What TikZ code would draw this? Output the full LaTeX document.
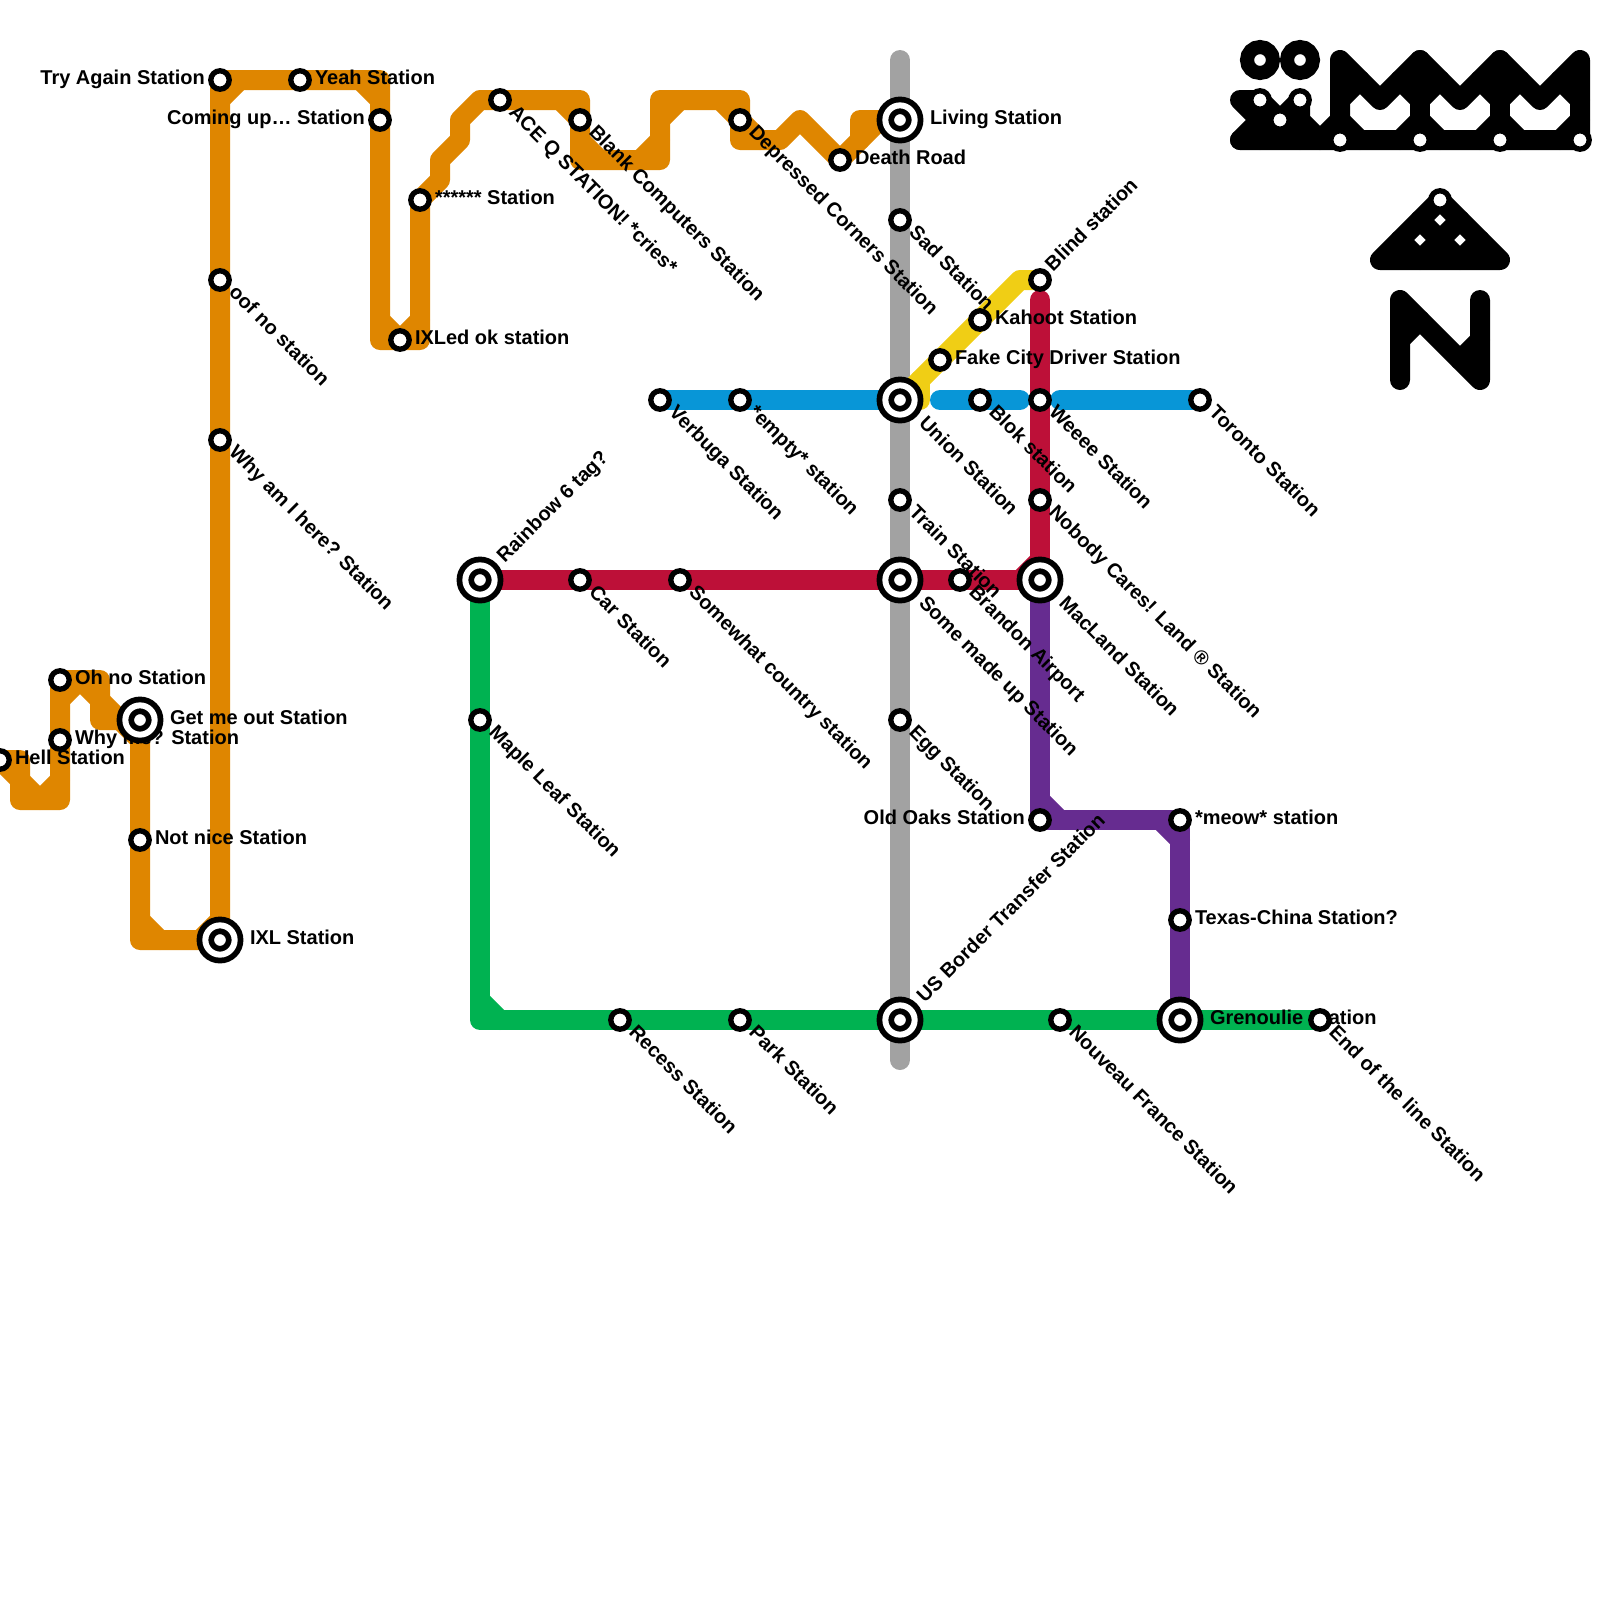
\documentclass[tikz,border=0pt]{standalone}
\usepackage{fontspec}
\setmainfont{Liberation Sans}
\usetikzlibrary{backgrounds}
\definecolor{mOrange}{HTML}{DF8600}
\definecolor{mRed}{HTML}{BD1038}
\definecolor{mBlue}{HTML}{0896D7}
\definecolor{mGreen}{HTML}{00B251}
\definecolor{mPurple}{HTML}{662C90}
\definecolor{mYellow}{HTML}{F0CE15}
\definecolor{mGrey}{HTML}{A2A2A2}
\tikzset{
  rail/.style={line width=0.25cm, line cap=round, line join=round},
  stn/.style={circle, draw=black, fill=white, line width=0.067cm, minimum size=0.23cm, inner sep=0pt, outer sep=0pt},
  hub/.style={circle, draw=black, fill=white, line width=0.072cm, double=white, double distance=0.075cm, minimum size=0.366cm, inner sep=0pt, outer sep=0pt},
  donut/.style={circle, draw=black, fill=white, line width=0.175cm, minimum size=0.325cm, inner sep=0pt, outer sep=0pt},
  tag/.style={font=\bfseries\fontsize{7.11}{8}\selectfont, inner sep=0pt, outer sep=0pt},
  rtag/.style={tag, anchor=base west, xshift=0.1875cm, yshift=-0.057cm},
  htag/.style={tag, anchor=base west, xshift=0.375cm, yshift=-0.057cm},
  ltag/.style={tag, anchor=base east, xshift=-0.19cm, yshift=-0.057cm},
  dtag/.style={tag, anchor=base west, xshift=0.10cm, yshift=-0.17cm, rotate=-45},
  dhtag/.style={tag, anchor=base west, xshift=0.225cm, yshift=-0.305cm, rotate=-45},
  utag/.style={tag, anchor=base west, xshift=0.165cm, yshift=0.10cm, rotate=45},
  uhtag/.style={tag, anchor=base west, xshift=0.31cm, yshift=0.21cm, rotate=45},
}
\begin{document}
\begin{tikzpicture}[x=0.25cm,y=-0.25cm]
  \useasboundingbox (0,0) rectangle (80,80);

  % stations, left to right
  \node[stn] (hell) at (0,38) {};
  \node[rtag] (hellT) at (hell) {Hell Station};
  \node[stn] (ohno) at (3,34) {};
  \node[rtag] (ohnoT) at (ohno) {Oh no Station};
  \node[stn] (whyme) at (3,37) {};
  \node[rtag] (whymeT) at (whyme) {Why me? Station};
  \node[hub] (getout) at (7,36) {};
  \node[htag] (getoutT) at (getout) {Get me out Station};
  \node[stn] (notnice) at (7,42) {};
  \node[rtag] (notniceT) at (notnice) {Not nice Station};
  \node[stn] (tryagain) at (11,4) {};
  \node[ltag] (tryagainT) at (tryagain) {Try Again Station};
  \node[stn] (oof) at (11,14) {};
  \node[dtag] (oofT) at (oof) {oof no station};
  \node[stn] (whyam) at (11,22) {};
  \node[dtag] (whyamT) at (whyam) {Why am I here? Station};
  \node[hub] (ixl) at (11,47) {};
  \node[htag] (ixlT) at (ixl) {IXL Station};
  \node[stn] (yeah) at (15,4) {};
  \node[rtag] (yeahT) at (yeah) {Yeah Station};
  \node[stn] (comingup) at (19,6) {};
  \node[ltag] (comingupT) at (comingup) {Coming up… Station};
  \node[stn] (ixled) at (20,17) {};
  \node[rtag] (ixledT) at (ixled) {IXLed ok station};
  \node[stn] (stars) at (21,10) {};
  \node[rtag] (starsT) at (stars) {****** Station};
  \node[hub] (rainbow) at (24,29) {};
  \node[uhtag] (rainbowT) at (rainbow) {Rainbow 6 tag?};
  \node[stn] (maple) at (24,36) {};
  \node[dtag] (mapleT) at (maple) {Maple Leaf Station};
  \node[stn] (ace) at (25,5) {};
  \node[dtag] (aceT) at (ace) {ACE Q STATION! *cries*};
  \node[stn] (blank) at (29,6) {};
  \node[dtag] (blankT) at (blank) {Blank Computers Station};
  \node[stn] (car) at (29,29) {};
  \node[dtag] (carT) at (car) {Car Station};
  \node[stn] (recess) at (31,51) {};
  \node[dtag] (recessT) at (recess) {Recess Station};
  \node[stn] (verbuga) at (33,20) {};
  \node[dtag] (verbugaT) at (verbuga) {Verbuga Station};
  \node[stn] (somewhat) at (34,29) {};
  \node[dtag] (somewhatT) at (somewhat) {Somewhat country station};
  \node[stn] (depressed) at (37,6) {};
  \node[dtag] (depressedT) at (depressed) {Depressed Corners Station};
  \node[stn] (empty) at (37,20) {};
  \node[dtag] (emptyT) at (empty) {*empty* station};
  \node[stn] (park) at (37,51) {};
  \node[dtag] (parkT) at (park) {Park Station};
  \node[stn] (death) at (42,8) {};
  \node[rtag] (deathT) at (death) {Death Road};
  \node[hub] (living) at (45,6) {};
  \node[htag] (livingT) at (living) {Living Station};
  \node[stn] (sad) at (45,11) {};
  \node[dtag] (sadT) at (sad) {Sad Station};
  \node[hub] (union) at (45,20) {};
  \node[dhtag] (unionT) at (union) {Union Station};
  \node[stn] (train) at (45,25) {};
  \node[dtag] (trainT) at (train) {Train Station};
  \node[hub] (madeup) at (45,29) {};
  \node[dhtag] (madeupT) at (madeup) {Some made up Station};
  \node[stn] (egg) at (45,36) {};
  \node[dtag] (eggT) at (egg) {Egg Station};
  \node[hub] (border) at (45,51) {};
  \node[uhtag] (borderT) at (border) {US Border Transfer Station};
  \node[stn] (fakecity) at (47,18) {};
  \node[rtag] (fakecityT) at (fakecity) {Fake City Driver Station};
  \node[stn] (brandon) at (48,29) {};
  \node[dtag] (brandonT) at (brandon) {Brandon Airport};
  \node[stn] (kahoot) at (49,16) {};
  \node[rtag] (kahootT) at (kahoot) {Kahoot Station};
  \node[stn] (blok) at (49,20) {};
  \node[dtag] (blokT) at (blok) {Blok station};
  \node[stn] (blind) at (52,14) {};
  \node[utag] (blindT) at (blind) {Blind station};
  \node[stn] (weeee) at (52,20) {};
  \node[dtag] (weeeeT) at (weeee) {Weeee Station};
  \node[stn] (nobody) at (52,25) {};
  \node[dtag] (nobodyT) at (nobody) {Nobody Cares! Land ® Station};
  \node[hub] (macland) at (52,29) {};
  \node[dhtag] (maclandT) at (macland) {MacLand Station};
  \node[stn] (oldoaks) at (52,41) {};
  \node[ltag] (oldoaksT) at (oldoaks) {Old Oaks Station};
  \node[stn] (nouveau) at (53,51) {};
  \node[dtag] (nouveauT) at (nouveau) {Nouveau France Station};
  \node[stn] (meow) at (59,41) {};
  \node[rtag] (meowT) at (meow) {*meow* station};
  \node[stn] (texas) at (59,46) {};
  \node[rtag] (texasT) at (texas) {Texas-China Station?};
  \node[hub] (grenoulie) at (59,51) {};
  \node[htag] (grenoulieT) at (grenoulie) {Grenoulie Station};
  \node[stn] (toronto) at (60,20) {};
  \node[dtag] (torontoT) at (toronto) {Toronto Station};
  \node[stn] (endline) at (66,51) {};
  \node[dtag] (endlineT) at (endline) {End of the line Station};

  % black pictograms
  \node[donut] (eyeA) at (63,3) {};
  \node[donut] (eyeB) at (65,3) {};
  \node[stn] (catA) at (63,5) {};
  \node[stn] (catB) at (65,5) {};
  \node[stn] (catC) at (64,6) {};
  \node[stn] (crownA) at (67,7) {};
  \node[stn] (crownB) at (71,7) {};
  \node[stn] (crownC) at (75,7) {};
  \node[stn] (crownD) at (79,7) {};
  \node[stn] (apex) at (72,10) {};

  \begin{pgfonlayer}{background}
    \coordinate (greytop) at (45,3);
    \coordinate (greyend) at (45,53);
    \draw[rail, mGrey] (greytop) -- (greyend);
    % orange line, with its corner cuts
    \draw[rail, mOrange] (hell.center) -- (1,38) -- (1,40) -- (3,40) -- (whyme.center) -- (ohno.center) -- (5,34) -- (5,36)
      -- (getout.center) -- (notnice.center) -- (7,47) -- (ixl.center) -- (whyam.center) -- (oof.center) -- (tryagain.center)
      -- (yeah.center) -- (19,4) -- (comingup.center) -- (19,17) -- (ixled.center) -- (21,17) -- (stars.center) -- (22,9) -- (22,8)
      -- (23,7) -- (23,6) -- (24,5) -- (ace.center) -- (29,5) -- (blank.center) -- (29,8) -- (33,8) -- (33,5) -- (37,5)
      -- (depressed.center) -- (37,7) -- (39,7) -- (40,6) -- (death.center) -- (43,7) -- (43,6) -- (living.center);
    \draw[rail, mOrange] (0,38) -- (1,39) (1,39) -- (2,40) -- (3,39) (3,35) -- (4,34) -- (5,35) -- (6,36) (6,36) -- (7,37)
      (7,46) -- (8,47) (10,47) -- (11,46) (11,5) -- (12,4) (18,4) -- (19,5) (19,16) -- (20,17) -- (21,16)
      (28,5) -- (29,6) (29,7) -- (30,8) (32,8) -- (33,7) (33,6) -- (34,5) (36,5) -- (37,6) -- (38,7) (43,7) -- (44,6);
    \draw[rail, mBlue] (verbuga.center) -- (union.center);
    \draw[rail, mBlue] (47,20) -- (51,20);
    \draw[rail, mBlue] (53,20) -- (toronto.center);
    \draw[rail, mYellow] (union.center) -- (fakecity.center) -- (kahoot.center) -- (51,14) -- (blind.center);
    \draw[rail, mYellow] (union.center) -- (46,20) -- (46,19);
    \draw[rail, mPurple] (macland.center) -- (oldoaks.center) -- (meow.center) -- (grenoulie.center);
    \draw[rail, mPurple] (52,40) -- (53,41) (58,41) -- (59,42);
    \draw[rail, mRed] (rainbow.center) -- (macland.center) -- (52,15);
    \draw[rail, mRed] (51,29) -- (52,28);
    \draw[rail, mGreen] (rainbow.center) -- (24,51) -- (endline.center);
    \draw[rail, mGreen] (24,50) -- (25,51);
    % cat
    \draw[rail, black] (62,5) -- (63,5) -- (63,7) (62,5) -- (63,6) -- (62,7) (63,5) -- (64,6) -- (65,5) -- (65,6) -- (66,7)
      (63,6) -- (65,6) -- (65,7);
    % crown
    \draw[rail, black] (62,7) -- (crownD.center) -- (79,3) -- (77,5) -- (75,3) -- (73,5) -- (71,3) -- (69,5) -- (67,3) -- (crownA.center);
    \draw[rail, black] (71,3) -- (crownB.center) (75,3) -- (crownC.center);
    \draw[rail, black] (66,7) -- (67,6) -- (68,7) (70,7) -- (71,6) -- (72,7) (74,7) -- (75,6) -- (76,7) (78,7) -- (79,6)
      (67,5) -- (68,4) (70,4) -- (71,5) -- (72,4) (74,4) -- (75,5) -- (76,4) (78,4) -- (79,5);
    % triangle
    \draw[rail, black] (apex.center) -- (69,13) -- (75,13) -- (apex.center);
    \draw[rail, black] (71,11) -- (73,13) (73,11) -- (71,13) (70,12) -- (71,13) (74,12) -- (73,13);
    % N
    \draw[rail, black] (70,19) -- (70,15) -- (74,19) -- (74,15);
    \draw[rail, black] (70,17) -- (71,16) (73,18) -- (74,17);
  \end{pgfonlayer}
\end{tikzpicture}
\end{document}
